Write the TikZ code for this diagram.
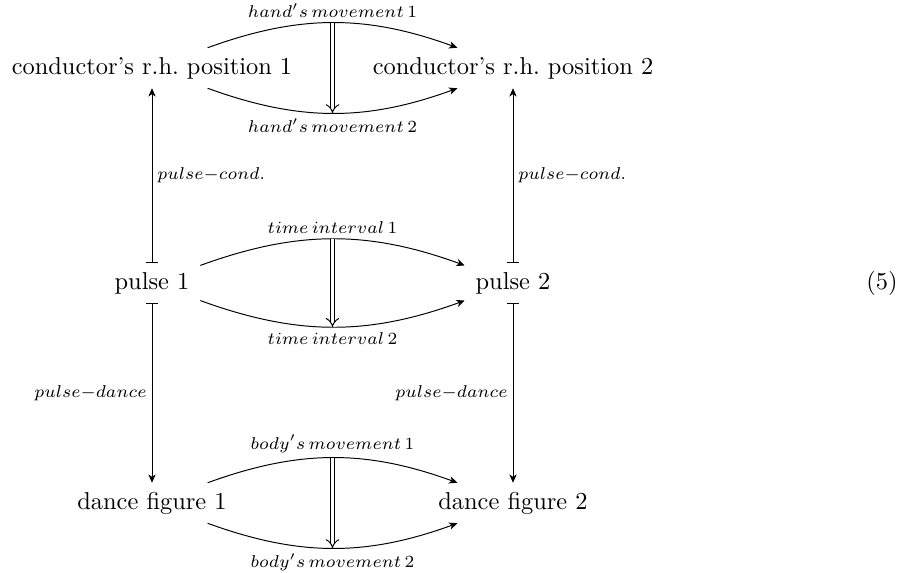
\documentclass[tikz,border=0pt]{standalone}
\usetikzlibrary{arrows.meta}
\tikzset{
  obj/.style={inner xsep=4.3pt, inner ysep=3.66pt, text height=6.94pt, text depth=1.94pt},
  cdtip/.tip={Stealth[length=3.4pt,width=3pt,inset=1pt]},
  cdarr/.style={line width=0.4pt, -cdtip},
  mapsto/.style={line width=0.4pt, {Bar[width=4.6pt,line width=0.4pt]}-cdtip},
  lbl/.style={inner sep=2pt},
  dbl/.style={line width=0.4pt, double equal sign distance, -{Implies}},
}
\begin{document}
\begin{tikzpicture}[x=0.4098pt, y=-0.4098pt]
\useasboundingbox (0,0) rectangle (903,573);
% row 1
\node[obj] (c1) at (152,68) {conductor's r.h.\ position 1};
\node[obj] (c2) at (513,68) {conductor's r.h.\ position 2};
% row 2
\node[obj] (p1) at (152,283) {pulse 1};
\node[obj] (p2) at (513,283) {pulse 2};
% row 3
\node[obj] (d1) at (152,503) {dance figure 1};
\node[obj] (d2) at (513,503) {dance figure 2};
% equation number
\node (eq) at (882,283) {(5)};

% horizontal curved arrows
\draw[cdarr] (c1) to[bend left=20] coordinate[pos=0.5] (cu) node[pos=0.5,above,lbl] {$\scriptstyle hand's\,movement\,1$} (c2);
\draw[cdarr] (c1) to[bend right=20] coordinate[pos=0.5] (cl) node[pos=0.5,below,lbl] {$\scriptstyle hand's\,movement\,2$} (c2);
\draw[dbl] (cu) -- (cl);

\draw[cdarr] (p1) to[bend left=20] coordinate[pos=0.5] (pu) node[pos=0.5,above,lbl] {$\scriptstyle time\,interval\,1$} (p2);
\draw[cdarr] (p1) to[bend right=20] coordinate[pos=0.5] (pl) node[pos=0.5,below,lbl] {$\scriptstyle time\,interval\,2$} (p2);
\draw[dbl] (pu) -- (pl);

\draw[cdarr] (d1) to[bend left=20] coordinate[pos=0.5] (du) node[pos=0.5,above,lbl] {$\scriptstyle body's\,movement\,1$} (d2);
\draw[cdarr] (d1) to[bend right=20] coordinate[pos=0.5] (dl) node[pos=0.5,below,lbl] {$\scriptstyle body's\,movement\,2$} (d2);
\draw[dbl] (du) -- (dl);

% vertical arrows
\draw[mapsto] (p1) -- node[right,lbl] {$\scriptstyle pulse-cond.$} (c1);
\draw[mapsto] (p2) -- node[right,lbl] {$\scriptstyle pulse-cond.$} (c2);
\draw[mapsto] (p1) -- node[left,lbl] {$\scriptstyle pulse-dance$} (d1);
\draw[mapsto] (p2) -- node[left,lbl] {$\scriptstyle pulse-dance$} (d2);
\end{tikzpicture}
\end{document}
